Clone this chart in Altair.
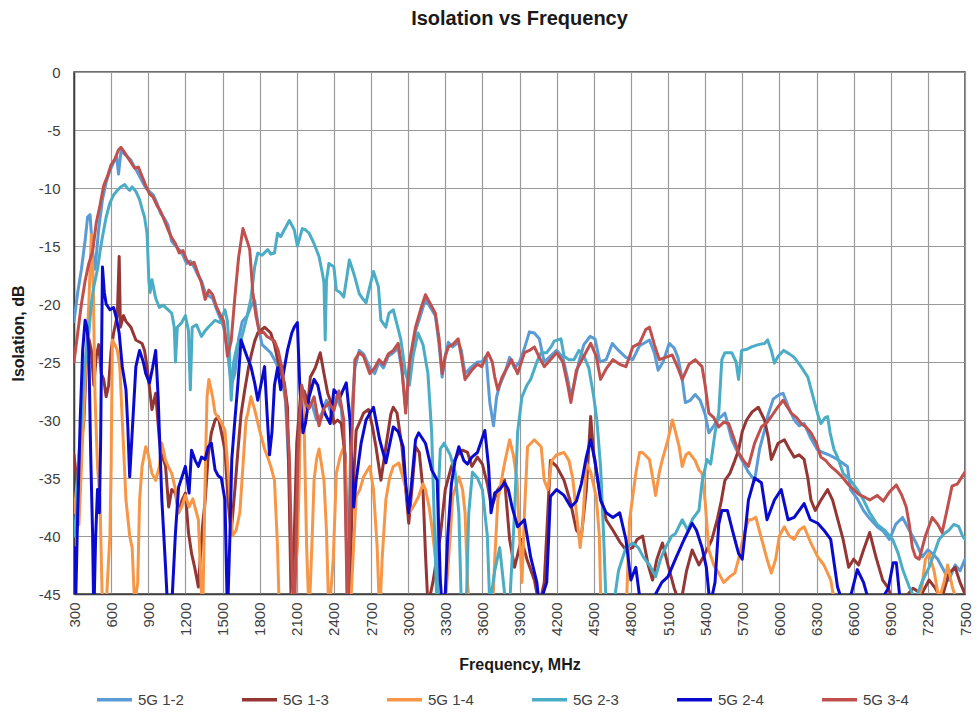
import altair as alt
import pandas as pd

SERIES = ["5G 1-2", "5G 1-3", "5G 1-4", "5G 2-3", "5G 2-4", "5G 3-4"]
COLORS = ["#5B9BD5", "#943634", "#F79646", "#4BACC6", "#0A0ACF", "#C0504D"]

X_TICKS = list(range(300, 7501, 300))
Y_TICKS = list(range(-45, 1, 5))

# (frequency MHz, isolation dB)
s12 = [(300,-21.5),(330,-19),(360,-17),(390,-14.5),(410,-12.5),(430,-12.3),(450,-15.5),(470,-17),(500,-13.5),(530,-11),(560,-9.5),(590,-8.5),(620,-7.8),(645,-7.3),(660,-8.8),(680,-6.8),(700,-7),(730,-7.3),(760,-7.6),(790,-8.2),(820,-8.8),(850,-9.4),(880,-10),(910,-10.3),(940,-10.6),(970,-11.3),(1000,-12.2),(1030,-12.6),(1060,-13.2),(1090,-14.6),(1120,-15),(1150,-15.3),(1180,-15.8),(1210,-16.5),(1240,-16.3),(1270,-16.8),(1300,-17.5),(1330,-18),(1360,-19),(1390,-19.3),(1420,-19.5),(1450,-20.4),(1480,-21.2),(1510,-22),(1540,-24),(1570,-27),(1600,-26),(1630,-23),(1660,-21.5),(1700,-21),(1730,-20.2),(1760,-19.7),(1790,-22),(1820,-23.5),(1850,-23.8),(1890,-24.2),(1920,-24.8),(1950,-25.5),(1980,-26.2),(2010,-28.5),(2040,-35),(2060,-46),(2090,-40),(2120,-30),(2150,-28),(2180,-29),(2220,-28.5),(2260,-30),(2300,-29.5),(2340,-28.3),(2380,-29.5),(2420,-28),(2460,-29),(2490,-33),(2510,-46),(2540,-30),(2570,-25.5),(2605,-24),(2640,-24.3),(2690,-25.5),(2730,-26),(2765,-25),(2800,-25.5),(2840,-24.5),(2880,-24.2),(2920,-23.8),(2950,-25.8),(2980,-29),(3010,-25.5),(3060,-22.3),(3100,-21),(3140,-19.6),(3180,-20.3),(3220,-21),(3250,-23.5),(3275,-26.3),(3300,-24.5),(3325,-23.3),(3360,-23.7),(3405,-23.3),(3430,-24),(3460,-26),(3515,-25.4),(3560,-25),(3595,-25),(3630,-24.5),(3660,-28.5),(3690,-30.5),(3715,-28),(3740,-27),(3780,-26),(3820,-24.6),(3860,-25.5),(3900,-25),(3940,-23.8),(3980,-22.4),(4020,-22.5),(4060,-23),(4100,-25),(4150,-24.5),(4200,-24),(4250,-24.6),(4290,-26.5),(4315,-28),(4340,-27),(4380,-25),(4420,-23.5),(4470,-22.8),(4510,-23),(4550,-25),(4600,-24.8),(4650,-23.4),(4700,-24),(4760,-24.6),(4815,-24.8),(4870,-23.6),(4920,-23.3),(4950,-23.1),(4990,-24.2),(5020,-25.7),(5060,-25),(5110,-23.4),(5150,-23.8),(5180,-24.6),(5215,-26.5),(5240,-28.5),(5280,-28.3),(5320,-27.8),(5360,-28.3),(5400,-29.5),(5430,-31.1),(5470,-30.5),(5500,-30),(5560,-29.4),(5615,-31.7),(5650,-32.5),(5700,-33.5),(5750,-34.5),(5800,-35.2),(5840,-32.5),(5880,-30.9),(5910,-29.5),(5950,-28.2),(6000,-27.8),(6030,-27.7),(6070,-28.8),(6120,-30),(6160,-30.5),(6200,-30.3),(6250,-31.5),(6310,-32.6),(6350,-32.8),(6400,-33),(6470,-33.4),(6550,-34),(6575,-36),(6630,-36.8),(6680,-37.8),(6730,-38.5),(6790,-39.2),(6840,-39.6),(6890,-40.3),(6940,-39),(6995,-38.4),(7050,-39.5),(7105,-40.6),(7155,-41.8),(7200,-41.2),(7235,-41.5),(7280,-42),(7315,-42.7),(7370,-43.8),(7420,-42.5),(7460,-43),(7500,-42)]

s13 = [(300,-33),(320,-35),(340,-38),(360,-32),(380,-30),(400,-25),(420,-23),(440,-24),(460,-27),(480,-24.5),(500,-23.5),(520,-26),(540,-26.5),(560,-28),(580,-27),(600,-24),(620,-22.5),(650,-21),(665,-15.9),(675,-22),(700,-21),(720,-21.5),(760,-22),(800,-23.1),(850,-23.4),(870,-24),(890,-25.4),(910,-27.2),(930,-29.1),(960,-27.7),(990,-31.7),(1010,-33),(1040,-34),(1065,-37.5),(1090,-36),(1120,-36.3),(1145,-38),(1170,-37),(1200,-36.3),(1225,-39.7),(1250,-41.5),(1275,-42.7),(1305,-44.4),(1320,-42),(1340,-39),(1360,-36.9),(1385,-33),(1410,-31.1),(1440,-30),(1465,-29.7),(1490,-31),(1520,-32.6),(1545,-37),(1570,-39.7),(1600,-36),(1625,-32.6),(1650,-29.5),(1680,-27.4),(1710,-25.5),(1730,-24.5),(1760,-23.2),(1785,-22.5),(1840,-22),(1870,-22.3),(1890,-22.5),(1920,-23.5),(1945,-24.8),(1970,-25.8),(2000,-26.8),(2025,-28.9),(2040,-36.9),(2055,-46),(2080,-40),(2100,-32),(2130,-28),(2160,-27.5),(2190,-28.5),(2210,-26.3),(2250,-25.5),(2290,-24.2),(2320,-26),(2350,-27.7),(2370,-28.3),(2400,-30.3),(2430,-30),(2460,-30.3),(2490,-33),(2510,-40),(2525,-47),(2545,-38),(2580,-30.9),(2640,-29.4),(2680,-29.1),(2710,-30.5),(2740,-32.3),(2780,-35.2),(2820,-32.3),(2860,-29.5),(2880,-28.9),(2910,-29.4),(2950,-32.3),(3005,-38.9),(3030,-36),(3060,-32.3),(3090,-32.8),(3120,-36),(3140,-41.5),(3160,-46),(3200,-44),(3260,-40),(3300,-36),(3350,-34),(3400,-33),(3440,-32.6),(3480,-32.8),(3515,-34),(3560,-33.2),(3600,-33.8),(3640,-35.5),(3675,-37.5),(3725,-36),(3780,-35.2),(3820,-40.3),(3860,-42.7),(3915,-40.3),(3960,-42),(4020,-43.8),(4060,-46),(4100,-44),(4150,-33.5),(4200,-34),(4260,-35.2),(4310,-37),(4360,-39.5),(4400,-40),(4440,-36),(4475,-29.7),(4500,-33),(4555,-36.6),(4600,-38.6),(4655,-39.5),(4710,-40.5),(4760,-41.2),(4815,-41),(4850,-40.3),(4895,-40),(4940,-42.5),(4975,-43.8),(5010,-42),(5055,-40.6),(5100,-42.5),(5150,-44.5),(5200,-46),(5250,-43),(5295,-41.2),(5350,-42.5),(5400,-41.5),(5455,-40.3),(5500,-38.5),(5530,-37),(5560,-35.2),(5600,-34.6),(5640,-33.5),(5670,-32.6),(5700,-31),(5735,-30),(5780,-29.3),(5830,-28.9),(5880,-30),(5910,-31.5),(5935,-33.4),(5990,-32),(6040,-31.7),(6080,-32.5),(6120,-33.2),(6160,-33),(6200,-33.4),(6230,-35),(6255,-36.9),(6290,-37.8),(6330,-37),(6390,-36),(6430,-36.9),(6470,-38.5),(6515,-40.3),(6560,-42.7),(6600,-42),(6640,-42.5),(6680,-41.2),(6730,-39.7),(6780,-41.8),(6835,-43.8),(6880,-44.5),(6930,-46),(7000,-45.5),(7080,-44.5),(7150,-45),(7210,-43.8),(7260,-44.5),(7310,-45.5),(7370,-43.2),(7420,-42.7),(7460,-44),(7500,-45)]

s14 = [(300,-38),(320,-36),(340,-39),(360,-34),(380,-29),(400,-24),(420,-20),(440,-14),(455,-18),(470,-28),(490,-34),(510,-36.9),(525,-44),(535,-48),(560,-46),(590,-40),(600,-34),(610,-23.1),(630,-23.5),(650,-24),(670,-25.4),(690,-30),(720,-36.9),(750,-40),(770,-41),(790,-46),(815,-44),(830,-36.9),(850,-34),(880,-32.3),(900,-33),(930,-34.6),(960,-35.2),(990,-34),(1010,-32),(1040,-33.5),(1070,-34.2),(1090,-34.6),(1120,-36),(1145,-38),(1170,-37.5),(1200,-36.5),(1230,-37.5),(1260,-36.8),(1305,-38.6),(1325,-43.8),(1340,-47),(1360,-35),(1375,-28),(1390,-26.5),(1420,-28),(1440,-29.4),(1480,-30),(1520,-30.9),(1550,-35),(1580,-40),(1610,-39.5),(1640,-38),(1665,-34),(1690,-30),(1705,-29.4),(1730,-28),(1760,-29.1),(1800,-30.9),(1840,-32.5),(1865,-33.2),(1890,-34),(1920,-35.2),(1945,-41),(1960,-47),(2030,-47),(2080,-44),(2105,-41),(2120,-35.2),(2130,-29.4),(2145,-27.2),(2160,-30.6),(2180,-41),(2200,-47),(2225,-40),(2240,-35.2),(2260,-33.4),(2280,-32.5),(2320,-35.2),(2340,-39.5),(2360,-47),(2395,-42),(2420,-34.6),(2450,-33.2),(2480,-32.3),(2495,-34),(2510,-47),(2540,-45),(2580,-36.6),(2610,-36),(2640,-34.9),(2690,-34),(2720,-36),(2750,-41),(2770,-47),(2790,-42),(2820,-36.9),(2850,-35),(2880,-34),(2925,-33.7),(2980,-35.8),(3010,-38),(3040,-37.5),(3085,-36.6),(3120,-35.5),(3140,-36),(3170,-37.5),(3195,-39.5),(3230,-42.7),(3250,-47),(3300,-46),(3340,-40),(3360,-36.6),(3410,-34.9),(3440,-36),(3460,-38),(3480,-44),(3500,-47),(3680,-47),(3700,-42),(3725,-36.9),(3780,-33.7),(3820,-31.7),(3850,-33),(3880,-35.2),(3900,-40),(3920,-44),(3940,-38),(3965,-32.3),(4020,-31.7),(4075,-32.3),(4100,-35.2),(4130,-36),(4160,-33.5),(4200,-33),(4260,-32.8),(4300,-33.5),(4330,-35),(4360,-38),(4390,-41),(4410,-39),(4440,-33.7),(4475,-34.5),(4520,-36.6),(4545,-40),(4560,-47),(4760,-47),(4790,-38.6),(4840,-34.6),(4870,-32.8),(4895,-32.8),(4950,-33.4),(4975,-34.9),(5000,-36.5),(5030,-34.5),(5055,-33.4),(5100,-31.7),(5135,-30),(5160,-31),(5190,-32.3),(5215,-34),(5245,-33),(5270,-32.8),(5320,-33.5),(5350,-34.3),(5375,-34.6),(5400,-37),(5430,-41.2),(5470,-42.5),(5510,-43.2),(5550,-44),(5600,-43.5),(5640,-43.2),(5670,-42),(5710,-40),(5750,-38.6),(5775,-38.6),(5810,-38.4),(5850,-40),(5900,-42),(5935,-43.2),(5970,-42),(6000,-40),(6040,-39.2),(6080,-40),(6120,-40.3),(6160,-39.5),(6200,-39.2),(6250,-40.5),(6310,-41.8),(6360,-42.5),(6415,-43.8),(6450,-46),(7100,-46),(7150,-44.5),(7180,-42),(7210,-41.5),(7250,-43),(7290,-45.5),(7330,-44),(7360,-42.5),(7400,-44.5),(7450,-46),(7500,-46)]

s23 = [(300,-40),(320,-38),(340,-33),(360,-30),(380,-26),(400,-24),(420,-22.5),(440,-20),(460,-18.5),(490,-17),(510,-15.5),(530,-14.2),(560,-12.5),(590,-11.3),(620,-10.6),(650,-10.2),(680,-9.9),(710,-9.7),(730,-10),(750,-10.2),(770,-9.9),(800,-10.3),(830,-11),(850,-11.8),(870,-12.5),(890,-13.9),(905,-18),(915,-19),(930,-17.9),(960,-19.5),(990,-20.3),(1020,-20.1),(1050,-20.4),(1090,-20.8),(1110,-22),(1120,-25),(1135,-22),(1170,-21.6),(1200,-21),(1225,-22.3),(1240,-27.4),(1255,-22),(1290,-21.8),(1330,-22.8),(1360,-22.3),(1385,-22),(1440,-21.4),(1480,-21.6),(1520,-20.5),(1540,-21.5),(1555,-24),(1570,-28.3),(1590,-25),(1620,-23.5),(1650,-23.1),(1700,-21),(1730,-19.5),(1760,-16.8),(1785,-15.6),(1820,-15.8),(1865,-15.3),(1890,-15.7),(1920,-15.6),(1945,-13.9),(1970,-14.2),(2000,-13.6),(2040,-12.8),(2080,-13.6),(2105,-15),(2145,-13.5),(2170,-13.6),(2200,-13.9),(2240,-14.8),(2280,-15.9),(2310,-17.5),(2320,-18.2),(2330,-23.1),(2340,-18),(2360,-16.5),(2400,-16.8),(2420,-18.8),(2450,-19),(2480,-19.4),(2500,-18),(2525,-16.2),(2550,-17),(2570,-17.7),(2605,-19.1),(2630,-19.5),(2660,-19.9),(2690,-18.5),(2720,-17.2),(2760,-18.5),(2780,-21.4),(2820,-22),(2845,-20.8),(2880,-20.5),(2940,-23),(2980,-26),(3010,-27),(3040,-24.5),(3080,-22.5),(3120,-23.5),(3160,-26),(3190,-31),(3215,-40),(3235,-47),(3245,-36),(3260,-32.5),(3290,-32),(3340,-33),(3380,-34.5),(3410,-38),(3430,-46),(3470,-46),(3490,-38),(3520,-34.5),(3560,-35),(3600,-36),(3640,-40),(3660,-46),(3700,-43),(3740,-41),(3780,-45),(3820,-46),(3860,-38),(3885,-31),(3920,-28),(3960,-27),(3990,-26.5),(4040,-25),(4075,-24.2),(4120,-24.2),(4155,-23.7),(4180,-23.2),(4235,-23),(4260,-24.5),(4300,-24.8),(4340,-24.8),(4380,-24),(4420,-24.5),(4460,-25.5),(4500,-28),(4525,-30),(4555,-34),(4580,-40),(4600,-46),(4660,-46),(4700,-43),(4760,-41),(4815,-40.6),(4860,-41),(4900,-41.8),(4950,-42.5),(5000,-43.5),(5040,-42),(5080,-41),(5130,-40),(5160,-39.8),(5215,-38.6),(5260,-39.5),(5300,-38.5),(5350,-37.8),(5375,-35.4),(5415,-33.4),(5445,-33.8),(5480,-31.1),(5510,-29.4),(5535,-24.8),(5560,-24.2),(5615,-24.2),(5650,-25),(5670,-26.5),(5695,-24),(5740,-23.9),(5775,-23.7),(5830,-23.5),(5880,-23.4),(5905,-23.1),(5935,-24),(5960,-25.1),(5990,-24.5),(6035,-24),(6080,-24.3),(6120,-24.6),(6175,-25.4),(6230,-26.3),(6280,-28.3),(6310,-29.5),(6335,-30.3),(6370,-29.8),(6390,-29.7),(6410,-31.1),(6440,-32.5),(6470,-33.2),(6515,-34.6),(6575,-35.2),(6630,-36),(6680,-36.9),(6730,-38),(6790,-39),(6850,-39.5),(6915,-40.3),(6960,-41.5),(7000,-43),(7050,-44.4),(7100,-45.5),(7150,-44),(7210,-42.7),(7250,-41.5),(7290,-40.3),(7330,-39.8),(7370,-39.5),(7410,-39),(7450,-39.2),(7480,-40),(7500,-40.3)]

s24 = [(300,-41),(315,-45),(330,-38),(350,-30),(370,-24),(390,-21.4),(405,-22),(420,-24),(435,-33),(450,-39.7),(460,-47),(475,-40),(490,-36),(505,-38),(515,-32),(530,-16.8),(545,-19),(560,-20),(590,-20.5),(620,-20.3),(640,-21.1),(665,-22.5),(690,-25.4),(720,-27.4),(735,-30.6),(750,-34.9),(770,-31.1),(800,-25.4),(830,-24),(860,-25),(880,-26),(910,-26.8),(935,-25.5),(960,-24),(980,-28),(990,-31.1),(1010,-36.9),(1040,-42.7),(1060,-47),(1090,-46),(1120,-39.7),(1145,-35.8),(1170,-35),(1200,-34),(1230,-36.3),(1250,-32.6),(1280,-33.5),(1305,-34),(1330,-33.2),(1360,-33.4),(1385,-32.3),(1410,-32),(1440,-34.3),(1465,-34.8),(1490,-35),(1520,-36.9),(1540,-47),(1560,-40),(1575,-33.4),(1600,-30),(1625,-26.8),(1650,-23.1),(1680,-24),(1700,-24.6),(1730,-25.4),(1760,-26.8),(1785,-28.3),(1810,-27),(1840,-25.4),(1860,-29.4),(1880,-33),(1900,-31),(1920,-27),(1945,-25.5),(1970,-27.4),(2000,-25.5),(2025,-24),(2060,-22.5),(2080,-22),(2105,-21.6),(2125,-27.2),(2150,-31.1),(2170,-30.3),(2200,-28),(2240,-26.5),(2270,-27),(2300,-28.5),(2330,-29.5),(2370,-30.3),(2400,-27.4),(2450,-28),(2500,-26.8),(2530,-30),(2560,-37.5),(2580,-35.2),(2620,-32),(2660,-30),(2720,-28.9),(2770,-31.7),(2820,-33.7),(2880,-30.6),(2920,-31),(2960,-32.3),(2980,-35.4),(3005,-38),(3030,-35.2),(3060,-31.7),(3085,-31.1),(3140,-32),(3190,-34.3),(3235,-35.2),(3260,-43.8),(3280,-47),(3300,-45),(3320,-40),(3350,-35.5),(3380,-33.5),(3410,-32.3),(3450,-33.5),(3480,-33.8),(3515,-33.2),(3560,-32.8),(3620,-30.9),(3650,-34),(3670,-38),(3700,-36.3),(3740,-36),(3780,-35.4),(3810,-36),(3840,-37.5),(3885,-39.2),(3940,-38.6),(3990,-41.8),(4040,-44),(4060,-46),(4120,-44),(4150,-36.6),(4200,-36),(4260,-36.5),(4315,-37.5),(4360,-37),(4400,-35.5),(4440,-33.2),(4475,-31.7),(4510,-33.5),(4555,-36.9),(4600,-38),(4655,-38.4),(4710,-38),(4760,-40.3),(4800,-43.8),(4840,-42.7),(4880,-46),(4950,-46),(5000,-45),(5050,-44),(5100,-43.5),(5160,-42),(5230,-40.3),(5295,-38.9),(5330,-39.5),(5375,-41),(5410,-42.7),(5440,-46),(5480,-44),(5510,-39),(5535,-37.8),(5580,-37.8),(5620,-39.5),(5670,-41.5),(5700,-42),(5730,-39),(5750,-36.9),(5800,-35),(5855,-35.4),(5900,-38.6),(5960,-36.9),(6015,-36),(6070,-38.6),(6120,-38.4),(6200,-37.2),(6250,-38.6),(6310,-38.9),(6360,-39.5),(6415,-40.3),(6470,-44.4),(6520,-46),(6580,-45),(6630,-42.9),(6680,-44),(6720,-45.5),(6800,-46),(6880,-44.5),(6920,-42.3),(6945,-42.3),(6980,-46),(7500,-46)]

s34 = [(300,-25),(330,-22.5),(360,-20),(390,-18),(420,-16.5),(450,-15.5),(480,-13),(510,-11.5),(540,-9.8),(570,-9),(600,-8),(630,-7.5),(660,-6.7),(680,-6.5),(700,-6.8),(730,-7.3),(760,-7.8),(790,-8.3),(820,-8.2),(850,-9),(880,-9.8),(910,-10.5),(940,-10.8),(970,-11.5),(1000,-12),(1030,-12.8),(1060,-13.6),(1090,-14.3),(1120,-14.8),(1150,-15.6),(1180,-15.4),(1210,-16.2),(1240,-16.6),(1270,-16.4),(1300,-17.3),(1330,-18.2),(1360,-19.6),(1390,-18.8),(1420,-19.2),(1450,-20.2),(1480,-20.9),(1510,-21.5),(1540,-24.5),(1570,-23.2),(1600,-19.4),(1630,-16),(1665,-13.5),(1700,-14.6),(1720,-15.3),(1745,-19),(1770,-21),(1800,-22.5),(1830,-22.4),(1860,-22.8),(1890,-23),(1920,-23.2),(1950,-24),(1980,-25.5),(2010,-28),(2040,-33),(2060,-42),(2080,-48),(2110,-33),(2140,-27),(2170,-28.5),(2200,-29),(2240,-28),(2280,-30.5),(2320,-29),(2360,-28.5),(2400,-29.2),(2440,-27.5),(2480,-30),(2510,-47),(2540,-33),(2570,-24.8),(2605,-24.2),(2640,-24.5),(2690,-26),(2730,-25.5),(2765,-24.8),(2800,-25.2),(2840,-24.3),(2880,-24),(2920,-23.4),(2950,-25.5),(2980,-29.4),(3010,-25),(3060,-22),(3100,-20.5),(3140,-19.2),(3180,-20),(3220,-20.8),(3250,-23),(3275,-26),(3300,-24.5),(3325,-23.7),(3360,-23.5),(3405,-23),(3430,-24.5),(3460,-26.5),(3515,-25.7),(3560,-25.2),(3595,-25.4),(3645,-24.2),(3680,-25),(3700,-26.3),(3725,-27.4),(3760,-26.3),(3800,-25.5),(3835,-24.8),(3885,-26),(3940,-24.2),(3980,-24),(4020,-23.7),(4060,-24.6),(4100,-25.4),(4150,-24.8),(4200,-24.2),(4250,-25),(4290,-27),(4315,-28.5),(4360,-25.7),(4420,-24.5),(4475,-23.4),(4520,-24.5),(4555,-26.5),(4600,-25.6),(4655,-24.8),(4710,-25.2),(4760,-25.4),(4815,-23.7),(4870,-23.4),(4920,-22.2),(4950,-22),(4990,-23.5),(5030,-24.8),(5080,-24.6),(5135,-24.4),(5180,-25.5),(5215,-26.5),(5270,-25.2),(5320,-24.8),(5375,-25.4),(5400,-27),(5430,-29.4),(5470,-29.8),(5510,-30.6),(5550,-30.2),(5590,-30.3),(5630,-31.5),(5670,-32.8),(5710,-33.5),(5750,-34),(5800,-32),(5855,-30.6),(5900,-30.2),(5935,-29.7),(5980,-29),(6030,-28.3),(6060,-28.8),(6095,-29.4),(6140,-29.8),(6175,-30.3),(6215,-30.6),(6255,-31.1),(6300,-32),(6335,-33.2),(6375,-33.5),(6415,-34),(6470,-34.5),(6515,-35),(6560,-35.6),(6600,-36),(6640,-36.4),(6680,-36.6),(6730,-36.9),(6790,-36.5),(6840,-37),(6890,-36.2),(6945,-35.6),(6990,-36.5),(7025,-37.5),(7050,-39),(7075,-41),(7100,-41.8),(7130,-42),(7180,-40),(7235,-38.4),(7280,-39),(7315,-39.7),(7350,-38),(7395,-35.7),(7440,-35.5),(7475,-34.9),(7500,-34.5)]

rows = []
for name, pts in zip(SERIES, [s12, s13, s14, s23, s24, s34]):
    for i, (f, d) in enumerate(pts):
        rows.append({"series": name, "freq": f, "db": d, "idx": i})
df = pd.DataFrame(rows)

FONT = "Liberation Sans"

chart = (
    alt.Chart(df)
    .mark_line(clip=True, strokeWidth=3, strokeJoin="round", strokeCap="round")
    .encode(
        x=alt.X(
            "freq:Q",
            scale=alt.Scale(domain=[300, 7500], nice=False, zero=False),
            axis=alt.Axis(
                values=X_TICKS, title="Frequency, MHz", labelAngle=270,
                labelExpr="datum.value + ''",
                labelPadding=8, titlePadding=21, ticks=False,
            ),
        ),
        y=alt.Y(
            "db:Q",
            scale=alt.Scale(domain=[-45, 0], nice=False, zero=False),
            axis=alt.Axis(
                values=Y_TICKS, title="Isolation, dB", labelPadding=14,
                labelExpr="datum.value + ''",
                titlePadding=12, ticks=False,
            ),
        ),
        color=alt.Color(
            "series:N",
            scale=alt.Scale(domain=SERIES, range=COLORS),
            legend=alt.Legend(
                title=None, orient="none", direction="horizontal", columns=6,
                legendX=21, legendY=608, symbolType="stroke", symbolSize=1225,
                symbolStrokeWidth=3.5, labelFontSize=15, labelFont=FONT,
                labelColor="#404040", labelOffset=4, columnPadding=51,
                gridAlign="all",
            ),
        ),
        order="idx:Q",
    )
    .properties(
        width=891,
        height=522,
        title=alt.TitleParams(
            "Isolation vs Frequency", fontSize=20, font=FONT, fontWeight="bold",
            anchor="middle", offset=36, color="#1a1a1a",
        ),
        padding={"left": 66, "top": 64, "right": 7, "bottom": 114},
        autosize="none",
    )
    .configure_view(stroke="#404040", strokeWidth=1.5)
    .configure_axis(
        labelFont=FONT, labelFontSize=15, labelColor="#404040",
        titleFont=FONT, titleFontSize=16, titleFontWeight="bold", titleColor="#1a1a1a",
        gridColor="#9a9a9a", gridWidth=1.2, domainColor="#404040", domainWidth=1.5,
    )
)

chart.save("out.html", embed_options={"renderer": "svg", "actions": False})
